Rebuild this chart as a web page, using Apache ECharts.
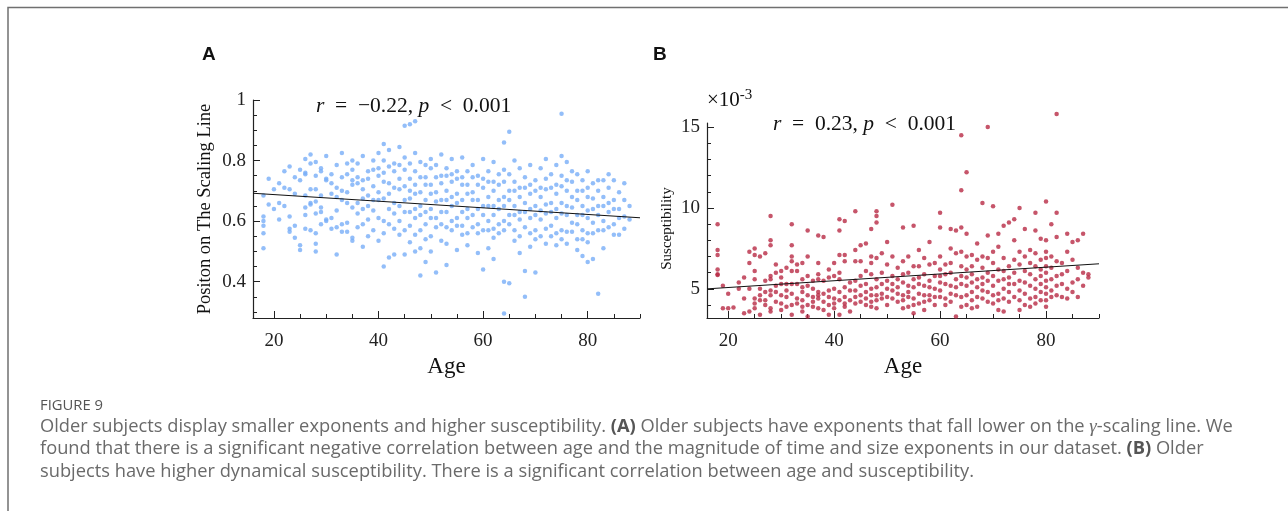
<!DOCTYPE html>
<html>
<head>
<meta charset="utf-8">
<title>Figure 9</title>
<script src="https://cdn.jsdelivr.net/npm/echarts@6/dist/echarts.min.js"></script>
<style>
  html, body { margin: 0; padding: 0; background: #fff; }
  #main { width: 1288px; height: 511px; }
</style>
</head>
<body>
<div id="main"></div>
<script>
// panel A: position on the scaling line, one list of values per age column
var agesA = [18, 19, 20, 21, 22, 23, 24, 25, 26, 27, 28, 29, 30, 31, 32, 33, 34, 35, 36, 37, 38, 39, 40, 41, 42, 43, 44, 45, 46, 47, 48, 49, 50, 51, 52, 53,
    54, 55, 56, 57, 58, 59, 60, 61, 62, 63, 64, 65, 66, 67, 68, 69, 70, 71, 72, 73, 74, 75, 76, 77, 78, 79, 80, 81, 82, 83, 84, 85, 86, 87, 88];
var posA = [
    [0.685, 0.615, 0.60, 0.585, 0.56, 0.51],
    [0.74, 0.655],
    [0.705, 0.64],
    [0.725, 0.66, 0.605],
    [0.765, 0.71, 0.65],
    [0.78, 0.705, 0.615, 0.575, 0.565],
    [0.745, 0.69, 0.585, 0.545],
    [0.77, 0.735, 0.52, 0.505],
    [0.805, 0.76, 0.755, 0.685, 0.645, 0.62, 0.575],
    [0.82, 0.79, 0.705, 0.66, 0.655, 0.57],
    [0.795, 0.75, 0.705, 0.665, 0.625, 0.56, 0.525, 0.50],
    [0.775, 0.765, 0.685, 0.645, 0.63, 0.59],
    [0.815, 0.74, 0.735, 0.60, 0.605],
    [0.755, 0.725, 0.69, 0.61, 0.575],
    [0.785, 0.71, 0.68, 0.635, 0.58, 0.49],
    [0.825, 0.745, 0.70, 0.67, 0.59, 0.565],
    [0.79, 0.755, 0.695, 0.66, 0.595, 0.565],
    [0.80, 0.77, 0.735, 0.72, 0.645, 0.545, 0.535],
    [0.79, 0.745, 0.725, 0.66, 0.625, 0.58],
    [0.815, 0.735, 0.705, 0.675, 0.64, 0.59, 0.515],
    [0.765, 0.74, 0.685, 0.65, 0.605, 0.55],
    [0.80, 0.77, 0.715, 0.67, 0.635, 0.57],
    [0.825, 0.775, 0.75, 0.695, 0.67, 0.61, 0.535],
    [0.855, 0.80, 0.76, 0.73, 0.675, 0.60, 0.56, 0.45],
    [0.835, 0.78, 0.725, 0.69, 0.64, 0.59, 0.48],
    [0.79, 0.765, 0.71, 0.66, 0.625, 0.575, 0.49],
    [0.845, 0.785, 0.74, 0.705, 0.65, 0.60, 0.555],
    [0.915, 0.81, 0.77, 0.715, 0.67, 0.63, 0.57, 0.49],
    [0.92, 0.79, 0.74, 0.70, 0.675, 0.63, 0.585, 0.53],
    [0.93, 0.825, 0.765, 0.72, 0.69, 0.64, 0.61, 0.555, 0.50],
    [0.795, 0.745, 0.695, 0.65, 0.62, 0.57, 0.51, 0.42],
    [0.785, 0.745, 0.72, 0.67, 0.63, 0.59, 0.54, 0.465],
    [0.805, 0.775, 0.72, 0.69, 0.64, 0.61, 0.55, 0.50],
    [0.785, 0.745, 0.695, 0.665, 0.61, 0.58, 0.43],
    [0.82, 0.75, 0.725, 0.67, 0.63, 0.59, 0.535],
    [0.775, 0.75, 0.70, 0.67, 0.63, 0.58, 0.525, 0.455],
    [0.805, 0.755, 0.73, 0.68, 0.65, 0.60, 0.57],
    [0.765, 0.74, 0.69, 0.66, 0.61, 0.585, 0.505],
    [0.81, 0.745, 0.72, 0.67, 0.63, 0.585, 0.555],
    [0.765, 0.72, 0.69, 0.64, 0.61, 0.56, 0.52],
    [0.785, 0.745, 0.695, 0.67, 0.62, 0.58],
    [0.75, 0.72, 0.67, 0.64, 0.59, 0.56, 0.495],
    [0.805, 0.74, 0.71, 0.65, 0.62, 0.57, 0.44],
    [0.765, 0.73, 0.68, 0.65, 0.60, 0.57, 0.51],
    [0.795, 0.73, 0.70, 0.65, 0.62, 0.575, 0.545, 0.475],
    [0.755, 0.72, 0.67, 0.64, 0.59, 0.56],
    [0.86, 0.77, 0.73, 0.68, 0.65, 0.60, 0.57, 0.40, 0.295],
    [0.895, 0.755, 0.70, 0.67, 0.62, 0.59, 0.395],
    [0.80, 0.73, 0.70, 0.65, 0.62, 0.57, 0.535],
    [0.775, 0.71, 0.68, 0.63, 0.605, 0.55, 0.495],
    [0.745, 0.71, 0.66, 0.63, 0.58, 0.435, 0.35],
    [0.785, 0.72, 0.69, 0.64, 0.61, 0.56, 0.515],
    [0.735, 0.70, 0.65, 0.62, 0.57, 0.54, 0.43],
    [0.775, 0.71, 0.68, 0.635, 0.605, 0.55],
    [0.805, 0.74, 0.705, 0.655, 0.625, 0.575, 0.525],
    [0.755, 0.71, 0.66, 0.63, 0.585, 0.55],
    [0.785, 0.72, 0.69, 0.64, 0.61, 0.56, 0.52],
    [0.955, 0.815, 0.75, 0.715, 0.66, 0.625, 0.57, 0.54],
    [0.795, 0.735, 0.70, 0.65, 0.62, 0.565, 0.525],
    [0.765, 0.73, 0.68, 0.645, 0.595, 0.565],
    [0.755, 0.70, 0.67, 0.62, 0.59, 0.54, 0.505],
    [0.735, 0.70, 0.65, 0.62, 0.57, 0.54, 0.485],
    [0.765, 0.71, 0.68, 0.635, 0.61, 0.56, 0.53, 0.465],
    [0.725, 0.675, 0.64, 0.595, 0.56, 0.475],
    [0.735, 0.70, 0.65, 0.62, 0.57, 0.36],
    [0.735, 0.68, 0.65, 0.60, 0.57, 0.51],
    [0.755, 0.71, 0.66, 0.63, 0.58],
    [0.735, 0.67, 0.64, 0.59, 0.555],
    [0.695, 0.64, 0.61, 0.555],
    [0.725, 0.67, 0.615, 0.575],
    [0.65, 0.605]
];

// panel B: susceptibility (x10^-3), one list per age column
var agesB = agesA;
var suscB = [
    [9.0, 7.4, 7.1, 6.2, 5.9, 5.85],
    [5.2, 3.8],
    [4.7, 3.8],
    [3.85],
    [5.4, 5.0],
    [5.7, 4.4, 3.5],
    [7.3, 6.6, 5.0, 3.6],
    [7.5, 7.1, 6.1, 5.6, 4.4, 4.1, 3.8],
    [7.0, 5.0, 4.6, 4.3, 3.4],
    [7.2, 5.5, 4.8, 4.3, 4.0],
    [9.5, 8.0, 7.7, 5.8, 5.6, 4.9, 4.6, 3.8, 3.6],
    [6.5, 6.0, 5.2, 4.8, 4.2],
    [6.1, 5.7, 5.3, 4.6, 4.1, 3.7],
    [6.3, 5.3, 4.9, 4.5, 3.9],
    [9.0, 7.7, 7.0, 6.7, 6.1, 5.3, 4.7, 4.0, 3.4],
    [6.5, 6.1, 5.3, 4.4, 4.1],
    [6.6, 5.6, 5.1, 4.8, 4.3, 3.9, 3.6],
    [8.6, 7.0, 5.8, 5.2, 4.6, 4.0, 3.3],
    [5.5, 5.0, 4.5, 4.2, 3.9],
    [8.3, 6.6, 5.9, 5.6, 4.8, 4.6, 4.4, 3.8],
    [8.2, 5.5, 4.7, 4.2, 3.7],
    [6.2, 5.7, 4.9, 4.5, 4.0, 3.4],
    [6.6, 5.8, 5.0, 4.4, 4.1, 3.8],
    [9.3, 8.6, 7.1, 6.0, 5.6, 4.8, 4.3, 3.4],
    [9.2, 7.1, 6.7, 5.1, 4.5, 4.1, 3.9],
    [5.4, 4.9, 4.3, 3.6],
    [9.8, 7.4, 6.7, 5.5, 4.9, 4.5, 4.1],
    [7.7, 6.7, 5.8, 5.2, 4.6, 4.2],
    [7.8, 6.1, 5.3, 4.8, 4.4, 4.0],
    [8.7, 7.0, 6.6, 5.9, 5.0, 4.6, 4.2, 3.9],
    [9.8, 9.5, 9.1, 6.9, 5.6, 5.1, 4.6, 4.3, 3.8],
    [7.2, 6.0, 5.3, 4.7, 4.4],
    [7.9, 6.5, 5.5, 5.0, 4.5, 4.0],
    [10.2, 7.0, 5.8, 5.3, 4.9, 4.4],
    [6.3, 5.6, 5.1, 4.7, 4.2],
    [8.8, 6.7, 5.9, 5.4, 4.6, 4.3, 3.8],
    [7.0, 6.0, 5.2, 4.8, 4.5, 3.9],
    [8.9, 6.4, 5.6, 5.1, 4.4, 4.0, 3.5],
    [7.4, 6.4, 5.7, 5.3, 4.7, 4.1],
    [6.9, 5.9, 5.2, 4.6, 4.2, 3.7],
    [7.9, 6.5, 5.5, 5.1, 4.6, 4.3],
    [6.6, 5.8, 5.0, 4.5, 4.0],
    [9.7, 8.8, 7.0, 6.2, 5.8, 5.4, 4.9, 4.5],
    [6.5, 5.9, 5.3, 4.4, 4.0],
    [8.7, 7.5, 6.6, 6.0, 5.2, 4.7, 4.2],
    [8.6, 7.2, 5.6, 5.1, 4.6, 3.3],
    [14.5, 11.1, 8.8, 7.3, 6.4, 5.8, 5.3, 4.5, 3.9],
    [12.2, 8.4, 7.0, 6.2, 5.7, 5.2, 4.6, 4.0],
    [7.1, 6.4, 5.9, 5.4, 4.8, 4.3, 3.8],
    [7.8, 6.8, 5.6, 5.1, 4.5, 3.9],
    [10.3, 7.0, 6.3, 5.7, 5.3, 4.9, 4.4],
    [15.0, 8.3, 6.9, 6.0, 5.5, 4.8, 4.2],
    [10.1, 7.3, 6.6, 5.8, 5.2, 4.6, 4.1],
    [8.4, 7.6, 6.2, 5.5, 4.7, 4.3, 3.7],
    [8.9, 6.9, 6.1, 5.6, 5.0, 4.4, 3.6],
    [9.1, 6.4, 5.7, 5.3, 4.8, 4.2],
    [9.3, 8.0, 6.8, 6.0, 5.3, 4.5],
    [10.0, 7.3, 6.5, 5.5, 4.9, 4.3, 3.7],
    [8.7, 7.0, 6.1, 5.4, 4.7, 4.0],
    [7.4, 6.6, 5.9, 5.2, 4.4, 3.9],
    [9.7, 8.6, 7.2, 6.4, 5.6, 5.0, 4.5, 4.1],
    [8.1, 6.8, 6.2, 5.8, 5.3, 4.8, 4.3],
    [10.4, 8.0, 7.3, 6.9, 6.4, 6.0, 5.5, 5.1, 4.7, 4.3, 3.9],
    [9.0, 7.0, 6.3, 5.6, 4.9, 4.5],
    [15.8, 9.7, 8.2, 6.7, 5.8, 5.2, 4.6],
    [6.6, 5.9, 5.3, 4.5],
    [8.4, 7.3, 6.1, 5.0, 4.4],
    [7.9, 6.8, 5.4, 4.8],
    [8.0, 6.3, 5.6, 4.5],
    [8.4, 6.0, 5.2],
    [5.9, 5.7]
];

// least-squares lines as drawn (end points read at the axis limits)
var fitAge = [16, 90];
var fitA = [0.692, 0.611];
var fitB = [5.0, 6.55];

// ticks
var xLabels = [20, 40, 60, 80];
var xMinor = [25, 30, 35, 45, 50, 55, 65, 70, 75, 85, 90];
var yLabelsA = [0.4, 0.6, 0.8, 1];
var yMinorA = [0.3, 0.35, 0.45, 0.5, 0.55, 0.65, 0.7, 0.75, 0.85, 0.9, 0.95];
var yLabelsB = [5, 10, 15];
var yMinorB = [4, 6, 7, 8, 9, 11, 12, 13, 14];

function pairs(ages, cols) {
    var out = [];
    for (var i = 0; i < ages.length; i++) {
        for (var j = 0; j < cols[i].length; j++) out.push([ages[i], cols[i][j]]);
    }
    return out;
}

var serif = '"Liberation Serif", "DejaVu Serif", serif';
var sans = '"Open Sans", "Noto Sans", sans-serif';
var axisColor = '#222';

function majorX(grid, name) {
    return {
        type: 'value', gridIndex: grid, min: 16, max: 90, position: 'bottom',
        name: name, nameLocation: 'middle', nameGap: 37,
        nameTextStyle: {fontFamily: serif, fontSize: 23, color: '#111'},
        axisLine: {lineStyle: {color: axisColor, width: 1.2}},
        axisTick: {inside: true, length: 7, customValues: xLabels, lineStyle: {color: axisColor}},
        axisLabel: {customValues: xLabels, margin: 14, fontFamily: serif, fontSize: 19, color: '#222'},
        splitLine: {show: false}
    };
}
function minorX(grid) {
    return {
        type: 'value', gridIndex: grid, min: 16, max: 90, position: 'bottom',
        axisLine: {show: false},
        axisTick: {inside: true, length: 4, customValues: xMinor, lineStyle: {color: axisColor}},
        axisLabel: {show: false},
        splitLine: {show: false}
    };
}
function majorY(grid, min, max, labels, name, gap, size, pad, fmt) {
    return {
        type: 'value', gridIndex: grid, min: min, max: max, position: 'left',
        name: name, nameLocation: 'middle', nameGap: gap,
        nameTextStyle: {fontFamily: serif, fontSize: size, color: '#111', padding: pad},
        axisLine: {lineStyle: {color: axisColor, width: 1.2}},
        axisTick: {inside: true, length: 7, customValues: labels, lineStyle: {color: axisColor}},
        axisLabel: {customValues: labels, margin: 7, fontFamily: serif, fontSize: 19, color: '#222', formatter: fmt},
        splitLine: {show: false}
    };
}
function minorY(grid, min, max, ticks) {
    return {
        type: 'value', gridIndex: grid, min: min, max: max, position: 'left',
        axisLine: {show: false},
        axisTick: {inside: true, length: 4, customValues: ticks, lineStyle: {color: axisColor}},
        axisLabel: {show: false},
        splitLine: {show: false}
    };
}

var chart = echarts.init(document.getElementById('main'));
var option = {
    animation: false,
    backgroundColor: '#fff',
    grid: [
        {left: 253, top: 100, width: 387, height: 218},
        {left: 707, top: 123, width: 392, height: 195}
    ],
    xAxis: [majorX(0, 'Age'), minorX(0), majorX(1, 'Age'), minorX(1)],
    yAxis: [
        majorY(0, 0.28, 1, yLabelsA, 'Positon on The Scaling Line', 38, 18.5, [0, 0, 0, 0], function (v) { return v === 1 ? '1' : v.toFixed(1); }),
        minorY(0, 0.28, 1, yMinorA),
        majorY(1, 3.2, 15.25, yLabelsB, 'Susceptibility', 32, 15, [0, 16, 0, 0], function (v) { return String(v); }),
        minorY(1, 3.2, 15.25, yMinorB)
    ],
    series: [
        {
            type: 'scatter', xAxisIndex: 0, yAxisIndex: 0,
            data: pairs(agesA, posA), symbolSize: 4.5,
            itemStyle: {color: '#78aef7'}, clip: false
        },
        {
            type: 'line', xAxisIndex: 0, yAxisIndex: 0, z: 5,
            data: [[fitAge[0], fitA[0]], [fitAge[1], fitA[1]]],
            showSymbol: false, lineStyle: {color: '#111', width: 1}
        },
        {
            type: 'scatter', xAxisIndex: 2, yAxisIndex: 2,
            data: pairs(agesB, suscB), symbolSize: 4.5,
            itemStyle: {color: '#b82a45'}, clip: false
        },
        {
            type: 'line', xAxisIndex: 2, yAxisIndex: 2, z: 5,
            data: [[fitAge[0], fitB[0]], [fitAge[1], fitB[1]]],
            showSymbol: false, lineStyle: {color: '#111', width: 1}
        }
    ],
    graphic: [
        {
            type: 'polyline', silent: true,
            shape: {points: [[8, 511], [8, 7.5], [1288, 7.5]]},
            style: {stroke: '#707070', lineWidth: 1.5, fill: null}
        },
        {type: 'text', left: 202, top: 45, style: {text: 'A', font: 'bold 19px "Liberation Sans", Arial, sans-serif', fill: '#111'}},
        {type: 'text', left: 653, top: 45, style: {text: 'B', font: 'bold 19px "Liberation Sans", Arial, sans-serif', fill: '#111'}},
        {
            type: 'text', left: 316, top: 95,
            style: {
                text: '{i|r}\u2002=\u2002−0.22, {i|p}\u2002<\u20020.001',
                font: '21.5px ' + serif, fill: '#111',
                rich: {i: {fontFamily: serif, fontStyle: 'italic', fontSize: 21.5}}
            }
        },
        {
            type: 'text', left: 773, top: 113,
            style: {
                text: '{i|r}\u2002=\u20020.23, {i|p}\u2002<\u20020.001',
                font: '21.5px ' + serif, fill: '#111',
                rich: {i: {fontFamily: serif, fontStyle: 'italic', fontSize: 21.5}}
            }
        },
        {
            type: 'text', left: 707, top: 88,
            style: {
                text: '×10{s|-3}',
                font: '21px ' + serif, fill: '#111',
                rich: {s: {fontFamily: serif, fontSize: 15, verticalAlign: 'top', padding: [0, 0, 9, 0]}}
            }
        },
        {type: 'text', left: 40, top: 398, style: {text: 'FIGURE 9', font: '14.8px ' + sans, fill: '#555'}},
        {
            type: 'text', left: 40, top: 417,
            style: {
                text: 'Older subjects display smaller exponents and higher susceptibility. {b|(A)} Older subjects have exponents that fall lower on the {g|γ}-scaling line. We',
                font: '18.3px ' + sans, fill: '#6a6a6a',
                rich: {b: {fontWeight: 'bold', fontFamily: sans, fontSize: 18.3, fill: '#555'}, g: {fontStyle: 'italic', fontFamily: serif, fontSize: 19}}
            }
        },
        {
            type: 'text', left: 40, top: 440,
            style: {
                text: 'found that there is a significant negative correlation between age and the magnitude of time and size exponents in our dataset. {b|(B)} Older',
                font: '18.3px ' + sans, fill: '#6a6a6a',
                rich: {b: {fontWeight: 'bold', fontFamily: sans, fontSize: 18.3, fill: '#555'}}
            }
        },
        {
            type: 'text', left: 40, top: 463,
            style: {
                text: 'subjects have higher dynamical susceptibility. There is a significant correlation between age and susceptibility.',
                font: '18.3px ' + sans, fill: '#6a6a6a'
            }
        }
    ]
};
chart.setOption(option);
</script>
</body>
</html>
